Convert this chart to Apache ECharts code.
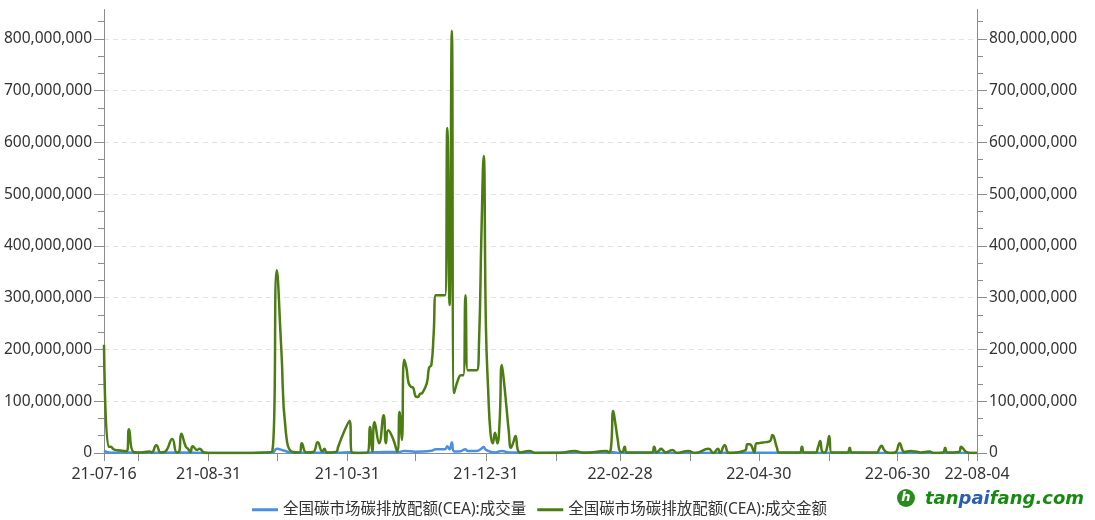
<!DOCTYPE html>
<html><head><meta charset="utf-8">
<script src="https://cdn.jsdelivr.net/npm/echarts@6/dist/echarts.min.js"></script>
<style>html,body{margin:0;padding:0;background:#fff}#c{width:1095px;height:520px}</style>
</head><body><div id="c"></div>
<script>
// ---- data ----
const seriesNames = ['全国碳市场碳排放配额(CEA):成交量', '全国碳市场碳排放配额(CEA):成交金额'];

// 成交金额 (millions of yuan)
const amountDates = [
 '2021-07-16','2021-07-18','2021-07-19','2021-07-20','2021-07-21','2021-07-23','2021-07-26','2021-07-27','2021-07-29',
 '2021-08-01','2021-08-05','2021-08-06','2021-08-08','2021-08-10','2021-08-12','2021-08-15','2021-08-17','2021-08-18',
 '2021-08-19','2021-08-21','2021-08-22','2021-08-23','2021-08-24','2021-08-26','2021-08-27','2021-08-29','2021-08-31',
 '2021-09-14','2021-09-24','2021-09-28','2021-09-30','2021-10-02','2021-10-04','2021-10-07','2021-10-10','2021-10-11',
 '2021-10-13','2021-10-16','2021-10-18','2021-10-20','2021-10-21','2021-10-22','2021-10-26','2021-10-27','2021-10-29',
 '2021-11-01','2021-11-02','2021-11-05','2021-11-09','2021-11-10','2021-11-11','2021-11-12','2021-11-14','2021-11-16',
 '2021-11-17','2021-11-18','2021-11-20','2021-11-22','2021-11-23','2021-11-24','2021-11-25','2021-11-26','2021-11-27',
 '2021-11-28','2021-11-29','2021-11-30','2021-12-01','2021-12-02','2021-12-03','2021-12-05','2021-12-06','2021-12-07',
 '2021-12-08','2021-12-09','2021-12-10','2021-12-11','2021-12-12','2021-12-13','2021-12-14','2021-12-15','2021-12-16',
 '2021-12-17','2021-12-19','2021-12-20','2021-12-21','2021-12-22','2021-12-23','2021-12-24','2021-12-25','2021-12-26',
 '2021-12-27','2021-12-28','2021-12-29','2021-12-30','2021-12-31','2022-01-01','2022-01-02','2022-01-03','2022-01-04',
 '2022-01-05','2022-01-06','2022-01-07','2022-01-08','2022-01-09','2022-01-10','2022-01-11','2022-01-12','2022-01-13',
 '2022-01-14','2022-01-15','2022-01-19','2022-01-22','2022-02-01','2022-02-08','2022-02-12','2022-02-22','2022-02-23',
 '2022-02-24','2022-02-25','2022-02-26','2022-02-27','2022-02-28','2022-03-01','2022-03-02','2022-03-03','2022-03-14',
 '2022-03-15','2022-03-16','2022-03-17','2022-03-18','2022-03-19','2022-03-20','2022-03-23','2022-03-25','2022-03-30',
 '2022-04-02','2022-04-08','2022-04-10','2022-04-12','2022-04-13','2022-04-15','2022-04-17','2022-04-24','2022-04-25',
 '2022-04-26','2022-04-27','2022-04-28','2022-04-29','2022-04-30','2022-05-01','2022-05-03','2022-05-05','2022-05-06',
 '2022-05-08','2022-05-09','2022-05-18','2022-05-19','2022-05-20','2022-05-25','2022-05-26','2022-05-27','2022-05-28',
 '2022-05-29','2022-05-30','2022-05-31','2022-06-01','2022-06-08','2022-06-09','2022-06-10','2022-06-21','2022-06-22',
 '2022-06-23','2022-06-24','2022-06-25','2022-06-27','2022-06-29','2022-07-01','2022-07-02','2022-07-03','2022-07-06',
 '2022-07-07','2022-07-08','2022-07-10','2022-07-12','2022-07-14','2022-07-16','2022-07-20','2022-07-21','2022-07-22',
 '2022-07-27','2022-07-28','2022-07-29','2022-07-30','2022-08-01','2022-08-04'
];
const amountValues = [
 209,12,12,8,6,5,3,46,2,
 1,3,1,15,1,3,27,1,2,
 37,12,8,2,13,6,8,1,0,
 0,1,3,353,200,40,2,1,19,
 1,2,21,3,8,1,2,12,35,
 62,1,0,1,50,3,60,19,73,
 19,44,29,3,79,25,180,165,135,
 128,126,110,108,114,116,135,165,170,
 230,305,305,305,305,305,628,286,816,
 116,145,150,150,305,160,160,160,160,
 160,220,420,574,243,120,39,19,39,
 19,60,170,135,90,44,10,20,33,
 6,1,4,0,0,4,0,4,1,
 10,81,55,25,3,2,12,1,1,
 12,1,4,8,5,1,6,0,4,
 0,8,0,8,0,15,0,5,17,
 17,12,1,19,19,20,21,23,35,
 10,1,1,12,1,1,10,23,2,
 1,10,33,1,1,10,1,1,8,
 14,7,2,0,1,19,8,2,4,
 3,3,1,2,3,0,1,10,1,
 2,12,8,3,0,0
];

// 成交量 (millions of tonnes)
const volumeDates = [
 '2021-07-16','2021-07-19','2021-07-27','2021-07-29','2021-08-19','2021-08-31','2021-09-28','2021-09-30','2021-10-03',
 '2021-10-07','2021-10-27','2021-11-01','2021-11-02','2021-11-12','2021-11-16','2021-11-23','2021-11-25','2021-11-30',
 '2021-12-03','2021-12-07','2021-12-09','2021-12-13','2021-12-14','2021-12-15','2021-12-16','2021-12-17','2021-12-20',
 '2021-12-22','2021-12-23','2021-12-27','2021-12-29','2021-12-30','2021-12-31','2022-01-04','2022-01-07','2022-01-10',
 '2022-01-13','2022-01-15','2022-02-25','2022-02-28','2022-04-30','2022-05-06','2022-05-10','2022-08-04'
];
const volumeValues = [
 4.1,0.6,1,0.2,0.8,0.1,0.2,8,5,
 0.3,0.3,1.4,0.1,1.3,1.7,1.9,4,2.6,
 2.7,4.2,7.4,7.4,13,6.8,20.5,2.8,3.6,
 7.2,3.8,3.8,8.5,11.5,5.8,0.9,4,1,
 0.8,0.1,1.4,0.1,0.4,0.6,0.1,0.1
];

// axis ticks (month ends) and labels
const tickDates = ['2021-07-16','2021-07-31','2021-08-31','2021-09-30','2021-10-31','2021-11-30','2021-12-31','2022-01-31',
 '2022-02-28','2022-03-31','2022-04-30','2022-05-31','2022-06-30','2022-07-31','2022-08-04'];
const labelDates = ['2021-07-16','2021-08-31','2021-10-31','2021-12-31','2022-02-28','2022-04-30','2022-06-30','2022-08-04'];
const yTickValues = [0,100000000,200000000,300000000,400000000,500000000,600000000,700000000,800000000];
const yMin = 0, yMax = 857000000, yInterval = 100000000;

// ---- build: x is the day number counted from the first date ----
const DAY = 86400000;
function utc(s){const p=s.split('-').map(Number);return Date.UTC(p[0],p[1]-1,p[2]);}
const t0 = utc(labelDates[0]);
function dayNo(s){return Math.round((utc(s)-t0)/DAY);}
function pad(n){return (n<10?'0':'')+n;}
function fmt(v){const d=new Date(t0+Math.round(v)*DAY);return pad(d.getUTCFullYear()%100)+'-'+pad(d.getUTCMonth()+1)+'-'+pad(d.getUTCDate());}
const amountData = amountDates.map((d,i)=>[dayNo(d), amountValues[i]*1e6]);
const volumeData = volumeDates.map((d,i)=>[dayNo(d), volumeValues[i]*1e6]);

const FONT = "'Noto Sans', 'Noto Sans CJK SC', sans-serif";
const numFmt = v => Math.round(v).toLocaleString('en-US');

function yAxisCfg(pos, showSplit){
  return {
    type:'value', position:pos, min:yMin, max:yMax, interval:yInterval,
    axisLine:{show:true, lineStyle:{color:'#8c8c8c', width:1}},
    axisTick:{show:true, length:10, customValues:yTickValues, lineStyle:{color:'#8c8c8c'}},
    minorTick:{show:true, splitNumber:3, length:6, lineStyle:{color:'#8c8c8c'}},
    axisLabel:{margin:12, fontSize:15.5, color:'#333', fontFamily:FONT, formatter:numFmt, customValues:yTickValues},
    splitLine:{show:showSplit, lineStyle:{color:'#e3e3e3', type:[5,4]}},
    minorSplitLine:{show:false}
  };
}

const chart = echarts.init(document.getElementById('c'), null, {renderer:'canvas'});
chart.setOption({
  animation:false,
  backgroundColor:'#fff',
  textStyle:{fontFamily:FONT},
  grid:{left:104, right:118, top:9.5, bottom:67, containLabel:false},
  legend:{
    top:497, left:247, icon:'rect', itemWidth:26, itemHeight:3, itemGap:11,
    textStyle:{fontSize:15.5, color:'#333', fontFamily:FONT},
    data:seriesNames
  },
  xAxis:{
    type:'value', min:0, max:dayNo(labelDates[labelDates.length-1]),
    axisLine:{show:true, lineStyle:{color:'#8c8c8c'}},
    axisTick:{show:true, length:8, customValues:tickDates.map(dayNo), lineStyle:{color:'#8c8c8c'}},
    axisLabel:{customValues:labelDates.map(dayNo), formatter:fmt, margin:13, fontSize:16, color:'#333', fontFamily:FONT, hideOverlap:false},
    splitLine:{show:false}
  },
  yAxis:[yAxisCfg('left', true), yAxisCfg('right', false)],
  series:[
    {name:seriesNames[0], type:'line', yAxisIndex:0, smooth:true, symbol:'none', data:volumeData,
     lineStyle:{color:'#4a90e2', width:2.5}, itemStyle:{color:'#4a90e2'}},
    {name:seriesNames[1], type:'line', yAxisIndex:1, smooth:true, symbol:'none', data:amountData,
     lineStyle:{color:'#4b7d12', width:2.5}, itemStyle:{color:'#4b7d12'}}
  ],
  graphic:[
    {type:'circle', shape:{cx:906, cy:498, r:9}, style:{fill:'#2b8a1f'}},
    {type:'text', x:906, y:498, style:{text:'h', fill:'#fff', fontFamily:'DejaVu Sans', fontWeight:'bold', fontStyle:'italic', fontSize:13, align:'center', verticalAlign:'middle'}},
    {type:'text', x:925, y:499, style:{
      text:'{g|tan}{b|pai}{g|fang.com}', verticalAlign:'middle', align:'left',
      rich:{
        g:{fill:'#188a12', fontFamily:'DejaVu Sans', fontWeight:'bold', fontStyle:'italic', fontSize:18},
        b:{fill:'#2a5fb0', fontFamily:'DejaVu Sans', fontWeight:'bold', fontStyle:'italic', fontSize:18}
      }}}
  ]
});
</script></body></html>
